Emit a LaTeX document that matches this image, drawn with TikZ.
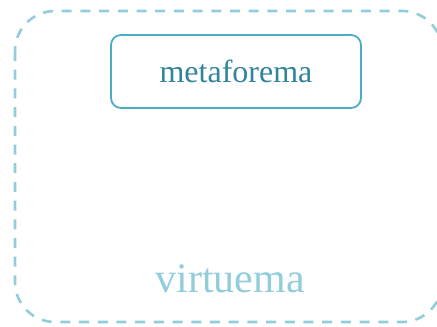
\documentclass[tikz,border=0pt]{standalone}
\usepackage{fontspec}
\setmainfont{Liberation Serif}
\definecolor{accent}{HTML}{4BACC6}
\definecolor{accentdark}{HTML}{31849B}
\definecolor{accentlight}{HTML}{92CDDC}
\tikzset{
  groupbox/.style={draw=accentlight, line width=2.6pt, dash pattern=on 10pt off 8.7pt, rounded corners=40pt},
  termbox/.style={draw=accent, line width=1.8pt, rounded corners=10pt, fill=white,
    minimum width=250pt, minimum height=73pt, text=accentdark, font=\fontsize{32}{36}\selectfont},
  grouplabel/.style={text=accentlight, font=\fontsize{42}{46}\selectfont, anchor=base}
}
\begin{document}
\begin{tikzpicture}[x=1pt,y=-1pt]
  \useasboundingbox (0,0) rectangle (437,327);
  \coordinate (gtl) at (15,11);
  \coordinate (gbr) at (442,322);
  \draw[groupbox] (gtl) rectangle (gbr);
  \node[termbox] (metaforema) at (236,71.5) {metaforema};
  \node[grouplabel] (virtuema) at (230,292) {virtuema};
\end{tikzpicture}
\end{document}
